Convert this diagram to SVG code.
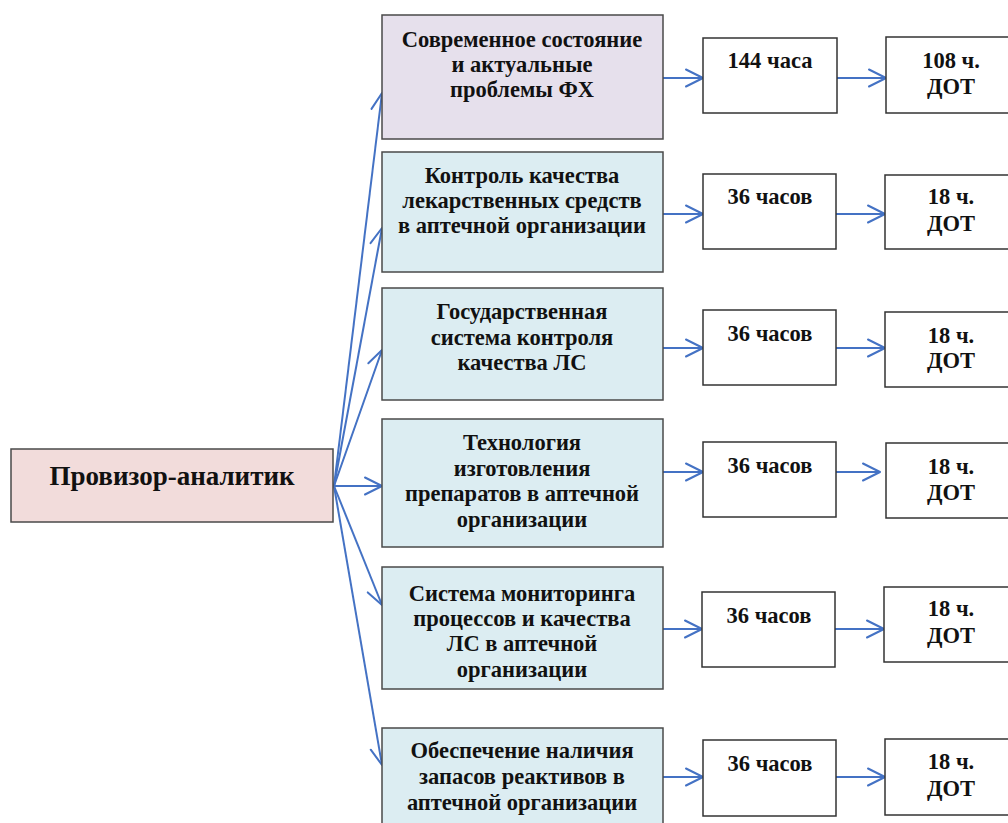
<svg xmlns="http://www.w3.org/2000/svg" width="1008" height="823" viewBox="0 0 1008 823">
<defs>
<style>
.t{font-family:"Liberation Serif","Times New Roman",serif;font-weight:bold;fill:#111;text-anchor:middle}
.m{font-size:22.5px}
.s{font-size:22.5px}
.ttl{font-size:27px}
.box{stroke:#4a4a4a;stroke-width:1.5}
.lav{fill:#e6e0ec}
.blue{fill:#dcedf2}
.pink{fill:#f2dcdb}
.wht{fill:#ffffff;stroke:#333;stroke-width:1.5}
.c{stroke:#4472c4;stroke-width:2;fill:none}
</style>
<marker id="ah" markerUnits="userSpaceOnUse" markerWidth="24" markerHeight="24" refX="20" refY="12" orient="auto" overflow="visible">
<path d="M3,3.5 L20,12 L3,20.5" fill="none" stroke="#4472c4" stroke-width="2" stroke-linecap="round" stroke-linejoin="round"/>
</marker>
</defs>
<rect width="1008" height="823" fill="#ffffff"/>

<g id="connectors">
<line class="c" x1="334" y1="486" x2="382" y2="93" marker-end="url(#ah)"/>
<line class="c" x1="334" y1="486" x2="382" y2="228" marker-end="url(#ah)"/>
<line class="c" x1="334" y1="486" x2="382" y2="350" marker-end="url(#ah)"/>
<line class="c" x1="334" y1="486" x2="382" y2="486" marker-end="url(#ah)"/>
<line class="c" x1="334" y1="486" x2="382" y2="605" marker-end="url(#ah)"/>
<line class="c" x1="334" y1="486" x2="382" y2="765" marker-end="url(#ah)"/>

<line class="c" x1="663" y1="78" x2="703" y2="78" marker-end="url(#ah)"/>
<line class="c" x1="837" y1="78" x2="886" y2="78" marker-end="url(#ah)"/>
<line class="c" x1="663" y1="214" x2="703" y2="214" marker-end="url(#ah)"/>
<line class="c" x1="836" y1="214" x2="885" y2="214" marker-end="url(#ah)"/>
<line class="c" x1="663" y1="348" x2="703" y2="348" marker-end="url(#ah)"/>
<line class="c" x1="836" y1="348" x2="885" y2="348" marker-end="url(#ah)"/>
<line class="c" x1="663" y1="472" x2="703" y2="472" marker-end="url(#ah)"/>
<line class="c" x1="836" y1="472" x2="880" y2="472" marker-end="url(#ah)"/>
<line class="c" x1="663" y1="629" x2="702" y2="629" marker-end="url(#ah)"/>
<line class="c" x1="835" y1="629" x2="884" y2="629" marker-end="url(#ah)"/>
<line class="c" x1="663" y1="777" x2="703" y2="777" marker-end="url(#ah)"/>
<line class="c" x1="836" y1="777" x2="885" y2="777" marker-end="url(#ah)"/>
</g>

<g id="root">
<rect class="box pink" x="11" y="449" width="322" height="73"/>
<text class="t ttl" x="172" y="485">Провизор-аналитик</text>
</g>

<g id="m1">
<rect class="box lav" x="382" y="15" width="281" height="124"/>
<text class="t m" x="522" y="47">Современное состояние</text>
<text class="t m" x="522" y="72">и актуальные</text>
<text class="t m" x="522" y="97">проблемы ФХ</text>
</g>
<g id="m2">
<rect class="box blue" x="382" y="152" width="281" height="120"/>
<text class="t m" x="522" y="183">Контроль качества</text>
<text class="t m" x="522" y="208">лекарственных средств</text>
<text class="t m" x="522" y="233">в аптечной организации</text>
</g>
<g id="m3">
<rect class="box blue" x="382" y="288" width="281" height="112"/>
<text class="t m" x="522" y="319">Государственная</text>
<text class="t m" x="522" y="345">система контроля</text>
<text class="t m" x="522" y="370">качества ЛС</text>
</g>
<g id="m4">
<rect class="box blue" x="382" y="419" width="281" height="128"/>
<text class="t m" x="522" y="450">Технология</text>
<text class="t m" x="522" y="476">изготовления</text>
<text class="t m" x="522" y="501">препаратов в аптечной</text>
<text class="t m" x="522" y="527">организации</text>
</g>
<g id="m5">
<rect class="box blue" x="382" y="567" width="281" height="122"/>
<text class="t m" x="522" y="601">Система мониторинга</text>
<text class="t m" x="522" y="626">процессов и качества</text>
<text class="t m" x="522" y="651">ЛС в аптечной</text>
<text class="t m" x="522" y="677">организации</text>
</g>
<g id="m6">
<rect class="box blue" x="382" y="728" width="281" height="122"/>
<text class="t m" x="522" y="758">Обеспечение наличия</text>
<text class="t m" x="522" y="784">запасов реактивов в</text>
<text class="t m" x="522" y="810">аптечной организации</text>
</g>

<g id="h1"><rect class="wht" x="703" y="38" width="134" height="75"/><text class="t s" x="770" y="68">144 часа</text></g>
<g id="h2"><rect class="wht" x="703" y="174" width="133" height="75"/><text class="t s" x="770" y="204">36 часов</text></g>
<g id="h3"><rect class="wht" x="703" y="310" width="133" height="75"/><text class="t s" x="770" y="341">36 часов</text></g>
<g id="h4"><rect class="wht" x="703" y="442" width="133" height="75"/><text class="t s" x="770" y="473">36 часов</text></g>
<g id="h5"><rect class="wht" x="702" y="592" width="133" height="75"/><text class="t s" x="769" y="623">36 часов</text></g>
<g id="h6"><rect class="wht" x="703" y="740" width="133" height="76"/><text class="t s" x="770" y="771">36 часов</text></g>

<g id="d1"><rect class="wht" x="886" y="37" width="132" height="76"/><text class="t s" x="951" y="68">108 ч.</text><text class="t s" x="951" y="94">ДОТ</text></g>
<g id="d2"><rect class="wht" x="885" y="175" width="132" height="74"/><text class="t s" x="951" y="204">18 ч.</text><text class="t s" x="951" y="231">ДОТ</text></g>
<g id="d3"><rect class="wht" x="885" y="312" width="132" height="75"/><text class="t s" x="951" y="343">18 ч.</text><text class="t s" x="951" y="368">ДОТ</text></g>
<g id="d4"><rect class="wht" x="886" y="443" width="132" height="75"/><text class="t s" x="951" y="474">18 ч.</text><text class="t s" x="951" y="500">ДОТ</text></g>
<g id="d5"><rect class="wht" x="884" y="587" width="132" height="75"/><text class="t s" x="951" y="616">18 ч.</text><text class="t s" x="951" y="643">ДОТ</text></g>
<g id="d6"><rect class="wht" x="885" y="739" width="132" height="76"/><text class="t s" x="951" y="769">18 ч.</text><text class="t s" x="951" y="796">ДОТ</text></g>
</svg>
